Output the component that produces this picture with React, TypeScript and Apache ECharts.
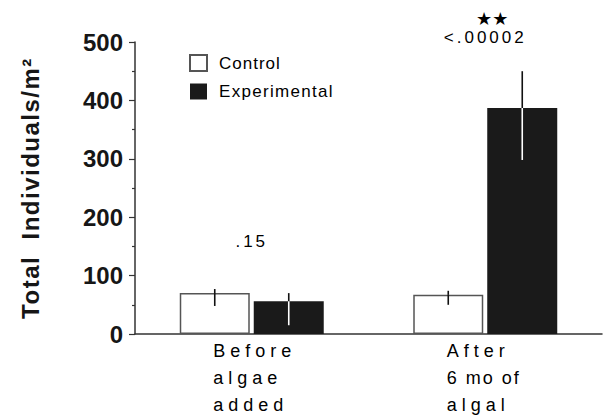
import React, { useEffect, useRef } from "react";
import * as echarts from "echarts";

// ---- data ----
const categories = ["Before\nalgae\nadded", "After\n6 mo of\nalgal"];
const controlMeans = [70, 67];
const controlLower = [48, 50];
const controlUpper = [77, 74];
const experimentalMeans = [56, 387];
const experimentalLower = [15, 298];
const experimentalUpper = [70, 450];
const yMin = 0;
const yMax = 500;
const yInterval = 100;
const pValueLabels = [".15", "<.00002"];
const pValuePositions = [159, 508];
const starLabels = ["", "★★"];
const starPositions = [0, 541];

const FONT = "'Liberation Sans', Arial, Helvetica, sans-serif";
const BAR_W = 70;
const BAR_GAP_PX = 4;

const spacing: Record<string, number> = {
  Before: 5,
  algae: 5,
  added: 5,
  After: 5,
  "6 mo of": 2,
  algal: 5,
  Control: 1,
  Experimental: 1.3,
  ".15": 3,
  "<.00002": 3,
  "Total  Individuals/m²": 1.5,
};

export default function App() {
  const ref = useRef<HTMLDivElement>(null);

  useEffect(() => {
    if (!ref.current) return;
    const chart = echarts.init(ref.current, null, { renderer: "svg" });

    const errData: any[] = [];
    controlMeans.forEach((v, i) => errData.push([i, v, controlLower[i], controlUpper[i], 0]));
    experimentalMeans.forEach((v, i) =>
      errData.push([i, v, experimentalLower[i], experimentalUpper[i], 1])
    );

    const annData: any[] = [];
    pValueLabels.forEach((t, i) => annData.push({ name: t, value: [i, pValuePositions[i]] }));
    const starData: any[] = [];
    starLabels.forEach((t, i) => {
      if (t) starData.push({ name: t, value: [i, starPositions[i]] });
    });

    const annLabel = {
      show: true,
      position: "inside",
      formatter: "{b}",
      fontFamily: FONT,
      fontSize: 17,
      color: "#000",
      opacity: 1,
      textBorderWidth: 0,
    };

    const option: any = {
      animation: false,
      backgroundColor: "#ffffff",
      grid: { left: 135, right: 12, top: 42, bottom: 82, containLabel: false },
      legend: {
        orient: "vertical",
        left: 184,
        top: 49,
        itemWidth: 17,
        itemHeight: 16,
        itemGap: 11,
        icon: "rect",
        data: ["Control", "Experimental"],
        textStyle: {
          fontFamily: FONT,
          fontSize: 17,
          color: "#000",
          padding: [0, 0, 0, 7],
        },
      },
      xAxis: {
        type: "category",
        data: categories,
        axisLine: { show: true, lineStyle: { color: "#333", width: 1.5 } },
        axisTick: { show: false },
        axisLabel: {
          margin: 3,
          interval: 0,
          formatter: (v: string) =>
            v
              .split("\n")
              .map((s) => `{a|${s}}`)
              .join("\n"),
          rich: {
            a: {
              width: 77,
              align: "left",
              fontFamily: FONT,
              fontSize: 18,
              lineHeight: 27,
              color: "#000",
            },
          },
        },
      },
      yAxis: {
        type: "value",
        min: yMin,
        max: yMax,
        interval: yInterval,
        name: "Total  Individuals/m²",
        nameLocation: "middle",
        nameGap: 93,
        nameTextStyle: { fontFamily: FONT, fontSize: 24, fontWeight: "bold", color: "#161616" },
        axisLine: { show: true, lineStyle: { color: "#333", width: 1.5 } },
        axisTick: { show: true, inside: false, length: 6, lineStyle: { color: "#333", width: 1.2 } },
        minorTick: { show: true, splitNumber: 2, length: 3, lineStyle: { color: "#333", width: 1.2 } },
        splitLine: { show: false },
        axisLabel: { margin: 12, fontFamily: FONT, fontSize: 24, fontWeight: "bold", color: "#161616" },
      },
      series: [
        {
          name: "Control",
          type: "bar",
          data: controlMeans,
          barWidth: BAR_W,
          barGap: ((BAR_GAP_PX / BAR_W) * 100).toFixed(1) + "%",
          itemStyle: { color: "#ffffff", borderColor: "#555", borderWidth: 1.5 },
          z: 2,
        },
        {
          name: "Experimental",
          type: "bar",
          data: experimentalMeans,
          barWidth: BAR_W,
          itemStyle: { color: "#1a1a1a", borderColor: "#1a1a1a", borderWidth: 0 },
          z: 2,
        },
        {
          type: "custom",
          data: errData,
          z: 5,
          silent: true,
          renderItem: (params: any, api: any) => {
            const cat = api.value(0);
            const mean = api.value(1);
            const lo = api.value(2);
            const hi = api.value(3);
            const side = api.value(4);
            const pMean = api.coord([cat, mean]);
            const pLo = api.coord([cat, lo]);
            const pHi = api.coord([cat, hi]);
            const off = (BAR_W + BAR_GAP_PX) / 2;
            const x = pMean[0] + (side === 0 ? -off : off);
            return {
              type: "group",
              children: [
                {
                  type: "line",
                  shape: { x1: x, y1: pMean[1], x2: x, y2: pHi[1] },
                  style: { stroke: "#111", lineWidth: 1.6 },
                },
                {
                  type: "line",
                  shape: { x1: x, y1: pMean[1], x2: x, y2: pLo[1] },
                  style: { stroke: side === 0 ? "#111" : "#ffffff", lineWidth: 1.6 },
                },
              ],
            };
          },
        },
        {
          type: "scatter",
          data: annData,
          symbolSize: 1,
          clip: false,
          silent: true,
          z: 6,
          itemStyle: { color: "#ffffff", opacity: 1 },
          labelLayout: { hideOverlap: false },
          label: annLabel,
        },
        {
          type: "scatter",
          data: starData,
          symbolSize: 1,
          clip: false,
          silent: true,
          z: 6,
          itemStyle: { color: "#ffffff", opacity: 1 },
          label: {
            ...annLabel,
            offset: [7, 0],
            fontFamily: "'DejaVu Sans', sans-serif",
            fontSize: 18,
          },
        },
      ],
    };

    chart.setOption(option);

    const applySpacing = () => {
      const root = ref.current;
      if (!root) return;
      root.querySelectorAll("text").forEach((t) => {
        const s = spacing[(t.textContent || "").trim()];
        if (s != null) t.setAttribute("letter-spacing", s + "px");
      });
    };
    applySpacing();
    chart.on("finished", applySpacing);
    const raf = requestAnimationFrame(applySpacing);

    return () => {
      cancelAnimationFrame(raf);
      chart.dispose();
    };
  }, []);

  return (
    <div
      ref={ref}
      style={{ position: "fixed", left: 0, top: 0, width: 614, height: 416, background: "#fff" }}
    />
  );
}
